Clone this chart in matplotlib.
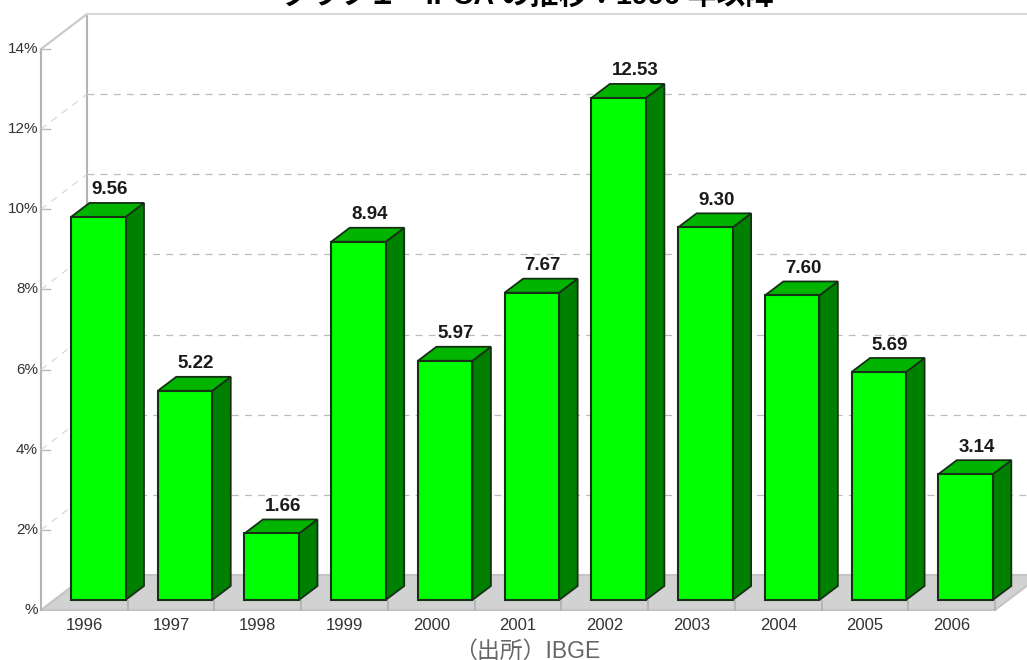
import matplotlib
matplotlib.use("Agg")
import matplotlib.pyplot as plt

plt.rcParams['font.family'] = ['Liberation Sans', 'Noto Sans CJK JP', 'DejaVu Sans']

years = ['1996','1997','1998','1999','2000','2001','2002','2003','2004','2005','2006']
values = [9.56, 5.22, 1.66, 8.94, 5.97, 7.67, 12.53, 9.30, 7.60, 5.69, 3.14]
value_labels = ['9.56','5.22','1.66','8.94','5.97','7.67','12.53','9.30','7.60','5.69','3.14']
y_ticks = [0, 2, 4, 6, 8, 10, 12, 14]
y_tick_labels = ['%', '2%', '4%', '6%', '8%', '10%', '12%', '14%']
title = 'グラフ１－IPCA の推移：1996 年以降'
source = '（出所）IBGE'

W, H = 1027, 660
PX_CAT = 86.73          # pixels per category
PX_VAL = 40.07          # pixels per percentage point
X0, Y0 = 41.0, 610.0    # pixel position of the origin on the front plane

fig = plt.figure(figsize=(W/100, H/100), dpi=100)
ax = fig.add_axes([0, 0, 1, 1])
ax.set_xlim(-X0/PX_CAT, (W-X0)/PX_CAT)
ax.set_ylim((Y0-H)/PX_VAL, Y0/PX_VAL)
ax.axis('off')

dx = lambda px: px/PX_CAT
dy = lambda px: px/PX_VAL

# wall depth
DX, DY = dx(46), dy(35)
n = len(years)
GRAY = '#b4b4b4'

# floor
ax.fill([0, DX, n+DX, n], [0, DY, DY, 0], fc='#d2d2d2', ec='#c4c4c4', lw=1.5, zorder=1)

# walls
ax.plot([0, 0], [0, 14], color=GRAY, lw=1.5, zorder=2)
ax.plot([DX, DX], [DY, 14+DY], color=GRAY, lw=1.5, zorder=2)
ax.plot([0, DX], [14, 14+DY], color='#c8c8c8', lw=1.5, zorder=2)
ax.plot([DX, n+1], [14+DY, 14+DY], color='#d8d8d8', lw=1.5, zorder=2)

# gridlines and y ticks
for v, lab in zip(y_ticks, y_tick_labels):
    if 0 < v < 14:
        ax.plot([0, DX], [v, v+DY], color='#d8d8d8', lw=0.9, dashes=(5.5, 5), zorder=2)
        ax.plot([DX, n+1], [v+DY, v+DY], color='#bcbcbc', lw=0.9, dashes=(5.5, 5), zorder=2)
    if v > 0:
        ax.plot([0, dx(9)], [v, v], color='#bcbcbc', lw=1.0, zorder=3)
    ax.text(-dx(3), v, lab, ha='right', va='center', fontsize=11, color='#333333', zorder=6)

# category ticks
for i in range(1, n+1):
    ax.plot([i, i], [0, dy(9)], color='#b0b0b0', lw=1.2, zorder=2)

# bars
BAR_L, BAR_W, BAR_B = dx(30), dx(54.5), dy(10)
BDX, BDY = dx(18.5), dy(14)
EDGE = '#153015'
for i, (v, lab, yr) in enumerate(zip(values, value_labels, years)):
    l = i + BAR_L
    r = l + BAR_W
    b = BAR_B
    t = BAR_B + v
    ax.fill([r, r+BDX, r+BDX, r], [b, b+BDY, t+BDY, t], fc='#008000', ec=EDGE, lw=1.3, zorder=4)
    ax.fill([l, l+BDX, r+BDX, r], [t, t+BDY, t+BDY, t], fc='#00b400', ec=EDGE, lw=1.3, zorder=4)
    ax.fill([l, r, r, l], [b, b, t, t], fc='#00ff00', ec=EDGE, lw=1.5, zorder=5)
    ax.text(l+dx(20), t+BDY+dy(4.5), lab, ha='left', va='bottom', fontsize=13.5,
            color='#1a1a1a', fontweight='bold', zorder=6)
    ax.text(i+0.5, -dy(16), yr, ha='center', va='center', fontsize=12, color='#333333', zorder=6)

# title and source
ax.text(dx(487), dy(606), title, ha='center', va='baseline', fontsize=20.7, fontweight='bold', color='black', zorder=7)
ax.text(dx(486), -dy(41), source, ha='center', va='center', fontsize=16.5, color='#666666', zorder=7)

fig.savefig('out.png', dpi=100)
